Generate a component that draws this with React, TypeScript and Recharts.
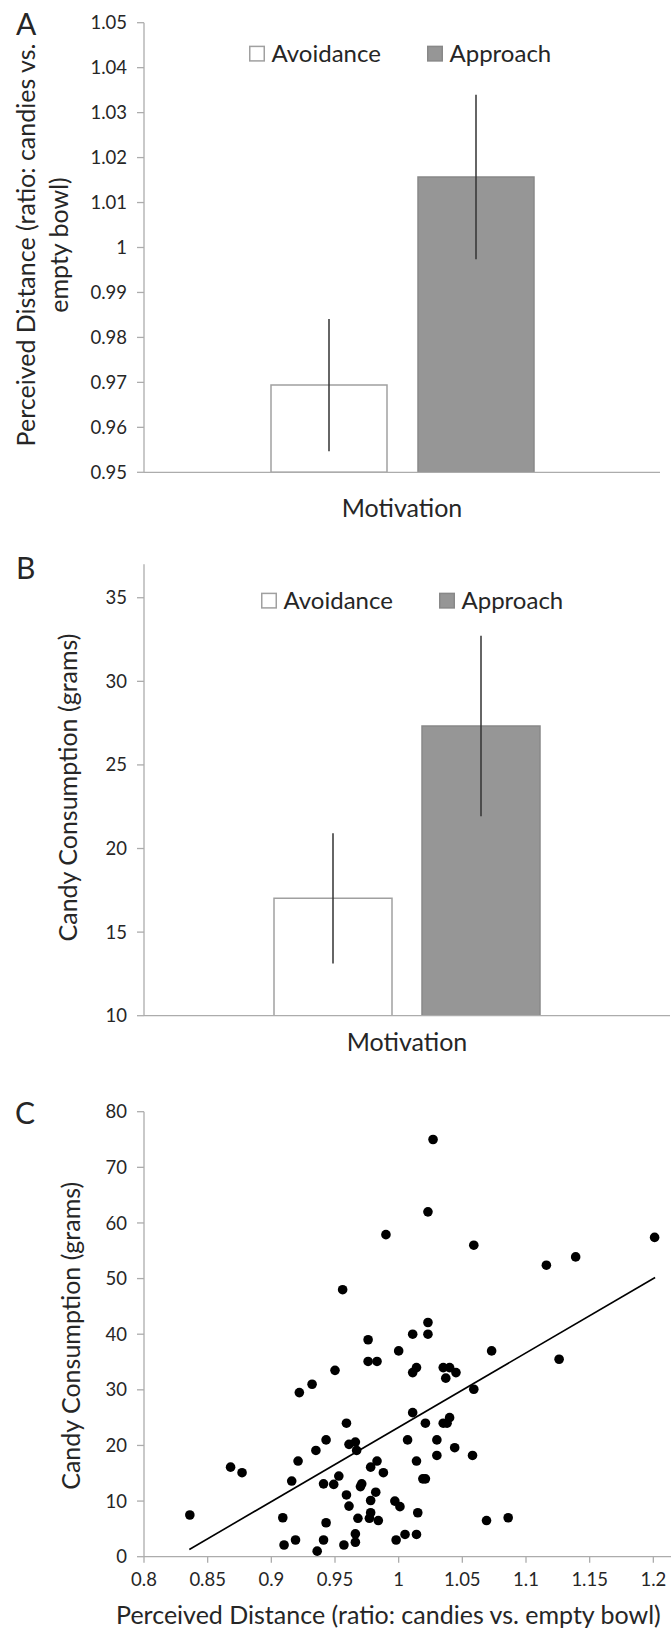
import { Bar, BarChart, ErrorBar, Legend, Scatter, ScatterChart, XAxis, YAxis } from "recharts";

const FONT = "Lato, 'Open Sans', sans-serif";
const INK = "#262626";
const AXIS = "#acacac";

// the two motivation groups (panels A and B)
const groups = ["Avoidance", "Approach"];
const groupFill = ["#ffffff", "#969696"];
const groupStroke = ["#a0a0a0", "#888888"];

// panel A: perceived distance
const distanceMean = [0.9694, 1.0157];
const distanceErr = [0.0147, 0.0183];
const distanceTicks = [0.95, 0.96, 0.97, 0.98, 0.99, 1, 1.01, 1.02, 1.03, 1.04, 1.05];

// panel B: candy consumption
const candyMean = [17.02, 27.33];
const candyErr = [3.9, 5.4];
const candyTicks = [10, 15, 20, 25, 30, 35];

// panel C: one dot per participant
const ratio = [
  0.836, 0.868, 0.877, 0.909, 0.91, 0.919, 0.916, 0.921, 0.922, 0.932,
  0.935, 0.936, 0.941, 0.941, 0.943, 0.943, 0.949, 0.95, 0.953, 0.956,
  0.957, 0.959, 0.959, 0.961, 0.961, 0.966, 0.967, 0.966, 0.966, 0.968,
  0.97, 0.971, 0.976, 0.976, 0.983, 0.978, 0.977, 0.978, 0.978, 0.984,
  0.983, 0.982, 0.99, 0.988, 0.997, 1.0, 0.998, 1.001, 1.005, 1.007,
  1.011, 1.014, 1.011, 1.011, 1.014, 1.015, 1.014, 1.019, 1.021, 1.021,
  1.023, 1.023, 1.023, 1.027, 1.03, 1.03, 1.035, 1.04, 1.037, 1.045,
  1.035, 1.038, 1.04, 1.044, 1.059, 1.059, 1.058, 1.069, 1.073, 1.086,
  1.116, 1.139, 1.201, 1.126,
];
const grams = [
  7.5, 16.1, 15.1, 7.0, 2.1, 3.0, 13.6, 17.2, 29.5, 31.0,
  19.1, 1.0, 13.1, 3.0, 6.1, 21.0, 13.0, 33.5, 14.5, 48.0,
  2.1, 24.0, 11.1, 9.1, 20.2, 20.6, 19.1, 4.1, 2.6, 6.9,
  12.6, 13.1, 39.0, 35.1, 35.1, 7.9, 6.9, 10.1, 16.1, 6.5,
  17.2, 11.6, 57.9, 15.1, 10.0, 37.0, 3.0, 9.0, 4.0, 21.0,
  33.1, 34.0, 40.0, 25.9, 17.2, 7.9, 4.0, 14.0, 14.0, 24.0,
  62.0, 42.1, 40.0, 75.0, 21.0, 18.2, 34.0, 34.0, 32.1, 33.1,
  24.0, 24.0, 25.0, 19.6, 56.0, 30.1, 18.2, 6.5, 37.0, 7.0,
  52.4, 53.9, 57.4, 35.5,
];
const fitRatio = [0.8356, 1.2014];
const fitGrams = [1.3, 50.2];
const ratioTicks = [0.8, 0.85, 0.9, 0.95, 1, 1.05, 1.1, 1.15, 1.2];
const gramTicks = [0, 10, 20, 30, 40, 50, 60, 70, 80];

const fmt = (v: number) => String(+v.toFixed(2));

const barRows = (mean: number[], err: number[]) => {
  const row: any = { name: "Motivation" };
  groups.forEach((g, i) => {
    row[g] = mean[i];
    row[g + "Err"] = err[i];
  });
  return [row];
};

const points = ratio.map((x, i) => ({ x, y: grams[i] }));
const fitLine = fitRatio.map((x, i) => ({ x, y: fitGrams[i] }));

const tickStyle = { fill: INK, fontSize: 18.5, fontFamily: FONT };
const axisLine = { stroke: AXIS, strokeWidth: 1.3 };

// legend keeps the series order (recharts sorts payload by name otherwise)
const SwatchLegend = () => (
  <svg width={340} height={26} style={{ overflow: "visible" }}>
    {groups.map((name, i) => (
      <g key={name} transform={`translate(${i * 178},0)`}>
        <rect x={0.75} y={3.4} width={14.5} height={14.5} fill={groupFill[i]} stroke={groupStroke[i]} strokeWidth={1.5} />
        <text x={22.5} y={18.5} fontSize={24} fill={INK} fontFamily={FONT}>
          {name}
        </text>
      </g>
    ))}
  </svg>
);

const sideTitle = (letter: string, lx: number, ly: number, lines: string[], xs: number[], cy: number) => () => (
  <g fill={INK} fontFamily={FONT}>
    <text x={lx} y={ly} fontSize={30}>
      {letter}
    </text>
    {lines.map((t, i) => (
      <text key={i} transform={`translate(${xs[i]},${cy}) rotate(-90)`} textAnchor="middle" fontSize={25}>
        {t}
      </text>
    ))}
  </g>
);

const bottomTitle = (text: string, x: number, y: number) => () => (
  <text x={x} y={y} textAnchor="middle" fontSize={25} fill={INK} fontFamily={FONT}>
    {text}
  </text>
);

const GroupBars = () =>
  groups.map((g, i) => (
    <Bar key={g} dataKey={g} name={g} fill={groupFill[i]} stroke={groupStroke[i]} strokeWidth={1.5} isAnimationActive={false}>
      <ErrorBar dataKey={g + "Err"} width={0} stroke="#333" strokeWidth={1.5} />
    </Bar>
  ));

const Dot = (p: any) => <circle cx={p.cx} cy={p.cy} r={4.8} fill="#000" />;

const App = () => {
  return (
    <div
      style={{
        position: "absolute",
        left: 0,
        top: 0,
        width: 671,
        height: 1629,
        overflow: "hidden",
        background: "#fff",
        fontFamily: FONT,
      }}
    >
      {/* A */}
      <div style={{ position: "absolute", left: 0, top: 0 }}>
        <BarChart width={671} height={540} data={barRows(distanceMean, distanceErr)} margin={{ top: 22.7, right: 11, bottom: 0, left: 0 }} barSize={116} barGap={31}>
          <XAxis dataKey="name" height={67.7} tick={false} tickLine={false} axisLine={axisLine} label={bottomTitle("Motivation", 402, 516.7)} />
          <YAxis
            type="number"
            domain={[0.95, 1.05]}
            allowDataOverflow
            ticks={distanceTicks}
            tickFormatter={fmt}
            interval={0}
            width={144}
            tickSize={7}
            tickMargin={10}
            tick={tickStyle}
            tickLine={axisLine}
            axisLine={axisLine}
            label={sideTitle("A", 16, 35, ["Perceived Distance (ratio: candies vs.", "empty bowl)"], [34.7, 68], 245)}
          />
          <Legend layout="vertical" align="center" verticalAlign="middle" content={SwatchLegend} wrapperStyle={{ left: 249.3, top: 43.3, width: 340, height: 26 }} />
          {GroupBars()}
        </BarChart>
      </div>

      {/* B */}
      <div style={{ position: "absolute", left: 0, top: 540 }}>
        <BarChart width={671} height={526} data={barRows(candyMean, candyErr)} margin={{ top: 24.3, right: 1, bottom: 0, left: 0 }} barSize={118} barGap={30}>
          <XAxis dataKey="name" height={50.3} tick={false} tickLine={false} axisLine={axisLine} label={bottomTitle("Motivation", 407, 511)} />
          <YAxis
            type="number"
            domain={[10, 37]}
            allowDataOverflow
            ticks={candyTicks}
            interval={0}
            width={144}
            tickSize={7}
            tickMargin={10}
            tick={tickStyle}
            tickLine={axisLine}
            axisLine={axisLine}
            label={sideTitle("B", 16, 39.3, ["Candy Consumption (grams)"], [77.3], 247.5)}
          />
          <Legend layout="vertical" align="center" verticalAlign="middle" content={SwatchLegend} wrapperStyle={{ left: 260.7, top: 49.9, width: 340, height: 26 }} />
          {GroupBars()}
        </BarChart>
      </div>

      {/* C */}
      <div style={{ position: "absolute", left: 0, top: 1066 }}>
        <ScatterChart width={722} height={563} margin={{ top: 45.7, right: 5, bottom: 0, left: 0 }}>
          <XAxis
            type="number"
            dataKey="x"
            domain={[0.8, 1.25]}
            allowDataOverflow
            ticks={ratioTicks}
            tickFormatter={fmt}
            interval={0}
            height={72.3}
            tickSize={6}
            tickMargin={10}
            tick={tickStyle}
            tickLine={axisLine}
            axisLine={axisLine}
            label={bottomTitle("Perceived Distance (ratio: candies vs. empty bowl)", 388.4, 557.7)}
          />
          <YAxis
            type="number"
            dataKey="y"
            domain={[0, 80]}
            allowDataOverflow
            ticks={gramTicks}
            interval={0}
            width={144}
            tickSize={7}
            tickMargin={10}
            tick={tickStyle}
            tickLine={axisLine}
            axisLine={axisLine}
            label={sideTitle("C", 15, 57.5, ["Candy Consumption (grams)"], [79.7], 269.8)}
          />
          <Scatter data={points} shape={Dot} isAnimationActive={false} />
          <Scatter data={fitLine} line={{ stroke: "#000", strokeWidth: 1.6 }} shape={() => <g />} isAnimationActive={false} />
        </ScatterChart>
      </div>
    </div>
  );
};

export default App;
